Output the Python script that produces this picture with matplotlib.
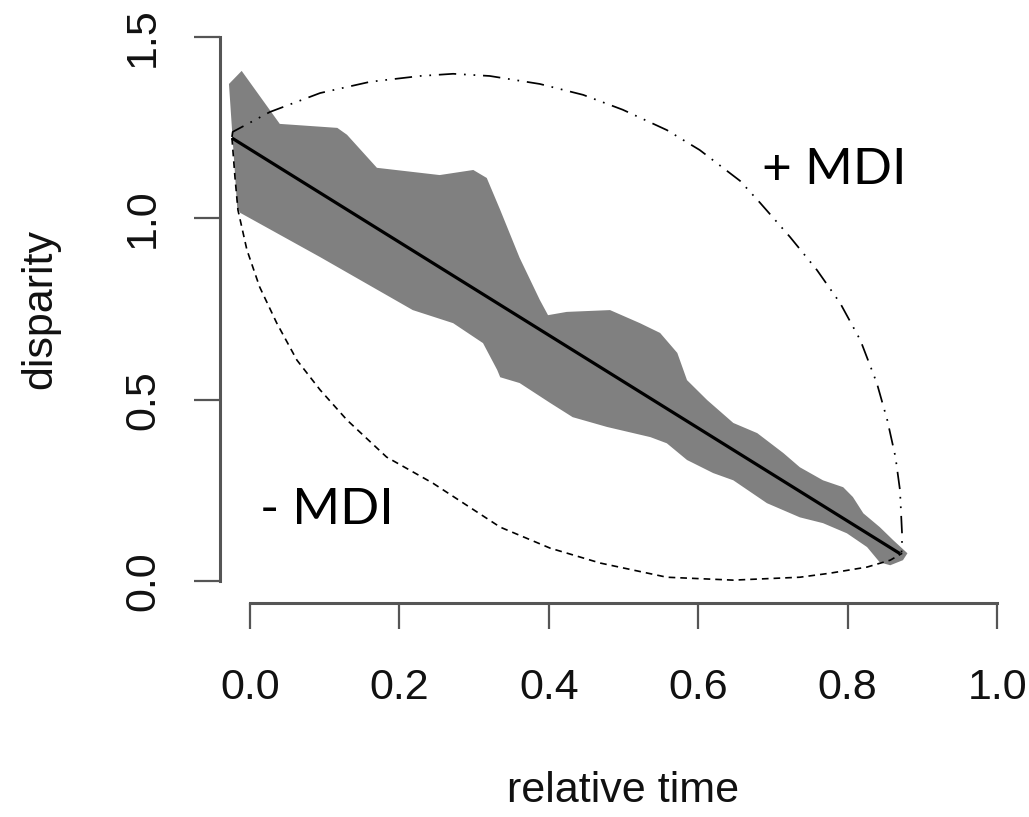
import matplotlib
matplotlib.use("Agg")
import matplotlib.pyplot as plt
import numpy as np

plt.rcParams['font.family'] = ['Liberation Sans', 'DejaVu Sans']

# upper edge of the disparity envelope (left -> right)
upper_t = [-0.028, -0.011, 0.040, 0.117, 0.130, 0.170, 0.254, 0.299, 0.317,
           0.335, 0.361, 0.388, 0.399, 0.424, 0.482, 0.522, 0.549, 0.572,
           0.585, 0.612, 0.647, 0.679, 0.714, 0.736, 0.767, 0.794, 0.807,
           0.821, 0.843, 0.861, 0.880]
upper_d = [1.370, 1.406, 1.260, 1.249, 1.230, 1.139, 1.119, 1.133, 1.111,
           1.023, 0.891, 0.775, 0.733, 0.742, 0.747, 0.711, 0.684, 0.629,
           0.554, 0.499, 0.436, 0.408, 0.353, 0.314, 0.278, 0.259, 0.232,
           0.187, 0.149, 0.113, 0.077]

# lower edge of the envelope (left -> right)
lower_t = [-0.017, -0.013, 0.094, 0.218, 0.272, 0.312, 0.331, 0.335, 0.361,
           0.402, 0.432, 0.478, 0.536, 0.558, 0.585, 0.620, 0.647, 0.692,
           0.736, 0.767, 0.799, 0.826, 0.843, 0.857, 0.874]
lower_d = [1.031, 1.015, 0.893, 0.747, 0.711, 0.656, 0.582, 0.562, 0.546,
           0.491, 0.452, 0.425, 0.397, 0.380, 0.334, 0.298, 0.278, 0.215,
           0.176, 0.160, 0.132, 0.094, 0.052, 0.044, 0.058]

# null expectation: straight decline
null_t = [-0.024, 0.870]
null_d = [1.221, 0.076]

# positive maximum deviation curve
plus_t = [-0.024, -0.023, 0.027, 0.094, 0.161, 0.228, 0.272, 0.321, 0.388,
          0.446, 0.499, 0.558, 0.602, 0.656, 0.683, 0.723, 0.759, 0.790,
          0.817, 0.839, 0.853, 0.864, 0.870, 0.873, 0.872]
plus_d = [1.224, 1.238, 1.293, 1.345, 1.376, 1.392, 1.398, 1.392, 1.370,
          1.340, 1.299, 1.243, 1.188, 1.103, 1.042, 0.948, 0.857, 0.766,
          0.664, 0.546, 0.444, 0.342, 0.251, 0.121, 0.077]

# negative maximum deviation curve
minus_t = [-0.024, -0.020, -0.016, -0.004, 0.013, 0.036, 0.063, 0.094, 0.130,
           0.183, 0.245, 0.335, 0.402, 0.469, 0.558, 0.647, 0.736, 0.776,
           0.826, 0.857, 0.873]
minus_d = [1.221, 1.114, 1.023, 0.913, 0.811, 0.711, 0.609, 0.527, 0.444,
           0.342, 0.270, 0.149, 0.091, 0.050, 0.011, 0.003, 0.011, 0.022,
           0.039, 0.058, 0.077]

x_ticks = [0.0, 0.2, 0.4, 0.6, 0.8, 1.0]
y_ticks = [0.0, 0.5, 1.0, 1.5]

fig = plt.figure(figsize=(10.29, 8.17), dpi=100)
ax = fig.add_axes([220 / 1029, (817 - 603) / 817, 807 / 1029, 588 / 817])

# envelope polygon: upper edge out, lower edge back
poly_t = upper_t + lower_t[::-1]
poly_d = upper_d + lower_d[::-1]
ax.fill(poly_t, poly_d, color='#808080', lw=0)

ax.plot(null_t, null_d, color='black', lw=2.3, solid_capstyle='butt')
ax.plot(plus_t, plus_d, color='black', lw=1.25,
        linestyle=(0, (10, 4.5, 1, 4.5, 1, 4.5)))
ax.plot(minus_t, minus_d, color='black', lw=1.2, linestyle=(0, (4, 3)))

mdi_font = ['Lato', 'DejaVu Sans']
ax.text(0.685, 1.133, '+ MDI', fontsize=37, family=mdi_font, va='center', ha='left')
ax.text(0.013, 0.196, '- MDI', fontsize=37, family=mdi_font, va='center', ha='left')

ax.set_xlim(-0.04, 1.04)
ax.set_ylim(-0.06, 1.56)

for side in ['top', 'right']:
    ax.spines[side].set_visible(False)
axis_col = '#555555'
ax.spines['left'].set_bounds(0, 1.5)
ax.spines['bottom'].set_bounds(0, 1)
for side in ['left', 'bottom']:
    ax.spines[side].set_color(axis_col)
    ax.spines[side].set_linewidth(2.2)

ax.set_xticks(x_ticks)
ax.set_xticklabels([f'{v:.1f}' for v in x_ticks])
ax.set_yticks(y_ticks)
ax.set_yticklabels([f'{v:.1f}' for v in y_ticks], rotation=90, va='center')
ax.tick_params(axis='both', direction='out', length=19, width=1.6,
               color=axis_col, labelsize=31, labelcolor='#111111')
ax.tick_params(axis='x', pad=28)
ax.tick_params(axis='y', pad=22)

ax.set_xlabel('relative time', fontsize=31, labelpad=45, color='#111111')
ax.set_ylabel('disparity', fontsize=31, labelpad=45, color='#111111')

fig.savefig('out.png', dpi=100)
